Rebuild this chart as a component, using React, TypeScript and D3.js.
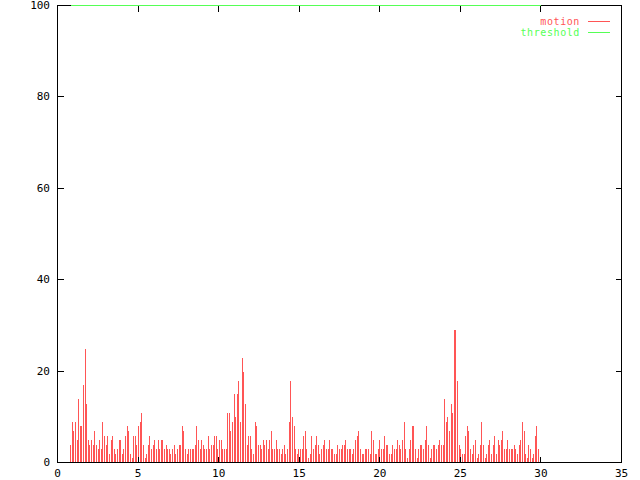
import React from "react";
import * as d3 from "d3";

const W = 640;
const H = 480;

// motion samples (uniformly spaced in time)
const motionStart = 0.81;
const motionStep = 0.1005;
const motionValues: number[] = [
  4, 9, 7, 9, 5, 14, 8, 8, 17, 25, 13, 5, 4, 5, 4, 7, 4, 3, 5, 3, 9, 6, 4, 6, 2, 5, 6, 3, 2, 3, 5, 5, 2, 3, 6,
  8, 7, 2, 1, 6, 6, 4, 8, 9, 11, 4, 1, 2, 4, 6, 3, 4, 5, 3, 5, 3, 5, 5, 3, 4, 3, 3, 2, 3, 4, 2, 3, 4, 4,
  8, 7, 3, 2, 3, 3, 3, 3, 4, 8, 5, 3, 5, 4, 3, 3, 6, 3, 4, 4, 6, 6, 3, 5, 5, 3, 3, 3, 11, 11, 7, 9, 15, 10,
  15, 18, 9, 23, 20, 13, 4, 6, 6, 3, 2, 9, 8, 4, 4, 3, 5, 4, 5, 3, 5, 7, 3, 3, 5, 3, 3, 2, 3, 4, 2, 3, 9,
  18, 10, 8, 3, 2, 3, 3, 3, 6, 7, 3,
  1, 2, 6, 3, 4, 6, 4, 2, 3, 4, 5, 3, 3, 5, 3, 3, 2, 2, 4, 3, 3, 4, 4, 5, 3, 3, 3, 2, 3, 5, 6, 7, 3, 2, 2,
  3, 3, 3, 2, 7, 5, 2, 2, 3, 5, 3, 3, 6, 4, 4, 2, 2, 4, 3, 3, 5, 4, 3, 5, 9, 3, 1, 3, 5, 8, 8, 3, 1, 3, 4,
  4, 3, 5, 8, 4,
  1, 3, 4, 4, 3, 4, 5, 4, 4, 14, 9, 10, 7, 13, 11, 29, 29, 18, 4, 3, 2, 2, 6, 8, 7, 3, 2, 4, 5, 1, 2, 4, 9,
  4, 1, 2, 4, 5, 2, 4, 6, 2, 5, 4, 5, 7, 3, 3, 5, 3, 3, 3, 4, 3, 2, 4, 5, 9, 7, 2, 1, 4, 3, 1, 2, 6, 8, 3, 1,
];
const thresholdValue = 100;

const xTicks = [0, 5, 10, 15, 20, 25, 30, 35];
const yTicks = [0, 20, 40, 60, 80, 100];
const seriesNames = ["motion", "threshold"];
const seriesColors = ["#ff5555", "#55ff55"];

const left = 57;
const right = 621;
const top = 5;
const bottom = 462;
const tickLen = 6;
const font = "'DejaVu Sans Mono', 'Liberation Mono', monospace";

export default function App() {
  const x = d3.scaleLinear().domain([0, 35]).range([left, right]);
  const y = d3.scaleLinear().domain([0, 100]).range([bottom, top]);
  const px = (v: number) => Math.round(v) + 0.5;

  const times = motionValues.map((_, i) => motionStart + i * motionStep);
  const tFirst = times[0];
  const tLast = times[times.length - 1];

  return (
    <svg
      width={W}
      height={H}
      style={{ position: "absolute", left: 0, top: 0, background: "#fff" }}
      shapeRendering="crispEdges"
    >
      <rect x={0} y={0} width={W} height={H} fill="#fff" />
      {/* impulses */}
      <g stroke={seriesColors[0]} strokeWidth={1}>
        {motionValues.map((v, i) =>
          v > 0 ? (
            <line
              key={i}
              x1={px(x(times[i]))}
              x2={px(x(times[i]))}
              y1={px(y(0))}
              y2={px(y(v))}
            />
          ) : null
        )}
      </g>
      {/* frame */}
      <rect
        x={left + 0.5}
        y={top + 0.5}
        width={right - left}
        height={bottom - top}
        fill="none"
        stroke="#000"
        strokeWidth={1}
      />
      {/* ticks */}
      <g stroke="#000" strokeWidth={1}>
        {yTicks.map((t) => (
          <g key={"y" + t}>
            <line x1={left + 0.5} x2={left + 0.5 + tickLen} y1={px(y(t))} y2={px(y(t))} />
            <line x1={right + 0.5} x2={right + 0.5 - tickLen} y1={px(y(t))} y2={px(y(t))} />
          </g>
        ))}
        {xTicks.map((t) => (
          <g key={"x" + t}>
            <line x1={px(x(t))} x2={px(x(t))} y1={bottom + 0.5} y2={bottom + 0.5 - tickLen} />
            <line x1={px(x(t))} x2={px(x(t))} y1={top + 0.5} y2={top + 0.5 + tickLen} />
          </g>
        ))}
      </g>
      {/* threshold */}
      <line
        x1={px(x(tFirst))}
        x2={px(x(tLast))}
        y1={px(y(thresholdValue))}
        y2={px(y(thresholdValue))}
        stroke={seriesColors[1]}
        strokeWidth={1}
      />
      {/* tick labels */}
      <g fontFamily={font} fontSize={11} fill="#000">
        {yTicks.map((t) => (
          <text key={"yl" + t} x={50} y={y(t) + 4} textAnchor="end">
            {t}
          </text>
        ))}
        {xTicks.map((t) => (
          <text key={"xl" + t} x={x(t) + 0.5} y={477} textAnchor="middle">
            {t}
          </text>
        ))}
      </g>
      {/* legend */}
      <g fontFamily={font} fontSize={10} letterSpacing={0.6}>
        {seriesNames.map((n, i) => (
          <g key={n}>
            <text x={580} y={24.5 + i * 11.5} textAnchor="end" fill={seriesColors[i]}>
              {n}
            </text>
            <line
              x1={588}
              x2={610}
              y1={21.5 + i * 11}
              y2={21.5 + i * 11}
              stroke={seriesColors[i]}
              strokeWidth={1}
            />
          </g>
        ))}
      </g>
    </svg>
  );
}
